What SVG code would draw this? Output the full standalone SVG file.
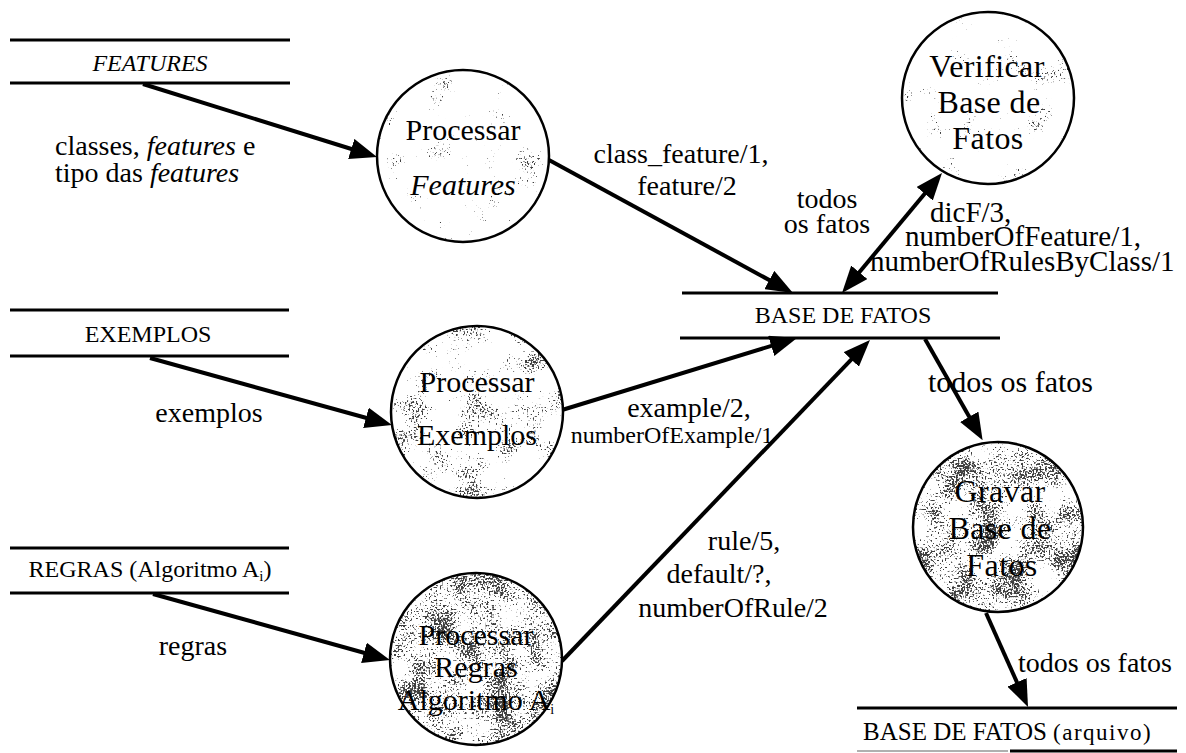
<svg xmlns="http://www.w3.org/2000/svg" width="1186" height="753" viewBox="0 0 1186 753">
  <style>
    text { font-family: "Liberation Serif", "Times New Roman", serif; fill: #000; }
    .store { stroke: #000; stroke-width: 3; }
    .ring { fill: none; stroke: #000; stroke-width: 2.5; }
    .disc { fill: #fff; }
    .grain { fill: #000; opacity: 0.75; }
    .flow { stroke: #000; stroke-width: 4; fill: none; marker-end: url(#head); }
    .both { marker-start: url(#head); }
    .nm { font-size: 30px; text-anchor: middle; }
    .nm2 { font-size: 32px; text-anchor: middle; letter-spacing: 0.4px; }
    .st { font-size: 24px; text-anchor: middle; }
    .el { font-size: 28px; }
    .mid { text-anchor: middle; }
  </style>
  <defs>
    <marker id="head" viewBox="0 0 27 21" refX="12" refY="10.5" markerWidth="27" markerHeight="21" markerUnits="userSpaceOnUse" orient="auto-start-reverse">
      <path d="M0,0 L27,10.5 L0,21 z" fill="#000"/>
    </marker>
    <!-- stipple grain inside the process bubbles: fine noise, loosely gathered by a coarse noise -->
    <filter id="grainLight" x="-5%" y="-5%" width="110%" height="110%" color-interpolation-filters="sRGB">
      <feTurbulence type="fractalNoise" baseFrequency="0.55" numOctaves="1" seed="7" result="fine"/>
      <feTurbulence type="fractalNoise" baseFrequency="0.035" numOctaves="2" seed="21" result="coarse"/>
      <feColorMatrix in="fine" type="matrix" values="0 0 0 0 0  0 0 0 0 0  0 0 0 0 0  1 0 0 0 0" result="fa"/>
      <feColorMatrix in="coarse" type="matrix" values="0 0 0 0 0  0 0 0 0 0  0 0 0 0 0  1 0 0 0 0" result="ca"/>
      <feComposite in="fa" in2="ca" operator="arithmetic" k2="1" k3="0.7" k4="-1.08" result="mix"/>
      <feComponentTransfer in="mix"><feFuncA type="linear" slope="10" intercept="-0.3"/></feComponentTransfer>
      <feComposite in2="SourceAlpha" operator="in"/>
    </filter>
    <filter id="grainMid" x="-5%" y="-5%" width="110%" height="110%" color-interpolation-filters="sRGB">
      <feTurbulence type="fractalNoise" baseFrequency="0.55" numOctaves="1" seed="3" result="fine"/>
      <feTurbulence type="fractalNoise" baseFrequency="0.035" numOctaves="2" seed="11" result="coarse"/>
      <feColorMatrix in="fine" type="matrix" values="0 0 0 0 0  0 0 0 0 0  0 0 0 0 0  1 0 0 0 0" result="fa"/>
      <feColorMatrix in="coarse" type="matrix" values="0 0 0 0 0  0 0 0 0 0  0 0 0 0 0  1 0 0 0 0" result="ca"/>
      <feComposite in="fa" in2="ca" operator="arithmetic" k2="1" k3="0.7" k4="-1.0" result="mix"/>
      <feComponentTransfer in="mix"><feFuncA type="linear" slope="10" intercept="-0.3"/></feComponentTransfer>
      <feComposite in2="SourceAlpha" operator="in"/>
    </filter>
    <filter id="grainHeavy" x="-5%" y="-5%" width="110%" height="110%" color-interpolation-filters="sRGB">
      <feTurbulence type="fractalNoise" baseFrequency="0.55" numOctaves="1" seed="5" result="fine"/>
      <feTurbulence type="fractalNoise" baseFrequency="0.035" numOctaves="2" seed="17" result="coarse"/>
      <feColorMatrix in="fine" type="matrix" values="0 0 0 0 0  0 0 0 0 0  0 0 0 0 0  1 0 0 0 0" result="fa"/>
      <feColorMatrix in="coarse" type="matrix" values="0 0 0 0 0  0 0 0 0 0  0 0 0 0 0  1 0 0 0 0" result="ca"/>
      <feComposite in="fa" in2="ca" operator="arithmetic" k2="1" k3="0.7" k4="-0.89" result="mix"/>
      <feComponentTransfer in="mix"><feFuncA type="linear" slope="10" intercept="-0.3"/></feComponentTransfer>
      <feComposite in2="SourceAlpha" operator="in"/>
    </filter>
  </defs>

  <rect width="1186" height="753" fill="#fff"/>

  <!-- data flows -->
  <g id="connectors">
    <line class="flow" x1="143" y1="84" x2="362.7" y2="152.5"/>
    <line class="flow" x1="150" y1="358" x2="377.5" y2="421"/>
    <line class="flow" x1="153" y1="594" x2="375.5" y2="656"/>
    <line class="flow" x1="549" y1="160" x2="779.8" y2="285.8"/>
    <line class="flow" x1="562" y1="410" x2="782.7" y2="342.4"/>
    <line class="flow" x1="562" y1="661" x2="859.6" y2="350.8"/>
    <line class="flow both" x1="851.6" y1="281.5" x2="932.4" y2="184.5"/>
    <line class="flow" x1="925" y1="339" x2="975.2" y2="427.2"/>
    <line class="flow" x1="986" y1="613" x2="1021.9" y2="693.3"/>

    <g id="flow-labels" class="el">
      <text x="55" y="155">classes, <tspan font-style="italic">features</tspan> e</text>
      <text x="55" y="182">tipo das <tspan font-style="italic">features</tspan></text>
      <text x="681" y="163" class="mid">class_feature/1,</text>
      <text x="687" y="195" class="mid">feature/2</text>
      <text x="827" y="208" class="mid">todos</text>
      <text x="827" y="233" class="mid">os fatos</text>
      <text x="930" y="222" font-size="29">dicF/3,</text>
      <text x="905" y="246" font-size="29">numberOfFeature/1,</text>
      <text x="870" y="271" font-size="29">numberOfRulesByClass/1</text>
      <text x="209" y="422" class="mid">exemplos</text>
      <text x="689" y="417" class="mid">example/2,</text>
      <text x="672" y="443" class="mid" font-size="24">numberOfExample/1</text>
      <text x="193" y="655" class="mid">regras</text>
      <text x="744" y="550" class="mid">rule/5,</text>
      <text x="719" y="583" class="mid">default/?,</text>
      <text x="733" y="617" class="mid">numberOfRule/2</text>
      <text x="928" y="392" font-size="30">todos os fatos</text>
      <text x="1018" y="672">todos os fatos</text>
    </g>
  </g>

  <!-- data stores -->
  <g id="store-features">
    <line class="store" x1="10" y1="40" x2="290" y2="40"/>
    <line class="store" x1="10" y1="83" x2="290" y2="83"/>
    <text x="150" y="71" class="st" font-style="italic">FEATURES</text>
  </g>
  <g id="store-exemplos">
    <line class="store" x1="10" y1="310" x2="289" y2="310"/>
    <line class="store" x1="10" y1="356" x2="289" y2="356"/>
    <text x="148" y="342" class="st">EXEMPLOS</text>
  </g>
  <g id="store-regras">
    <line class="store" x1="10" y1="548" x2="289" y2="548"/>
    <line class="store" x1="10" y1="593" x2="289" y2="593"/>
    <text x="150" y="577" class="st">REGRAS (Algoritmo A<tspan font-size="15" dy="4">i</tspan><tspan dy="-4">)</tspan></text>
  </g>
  <g id="store-base">
    <line class="store" x1="682" y1="293" x2="998" y2="293"/>
    <line class="store" x1="680" y1="338" x2="1000" y2="338"/>
    <text x="843" y="323" class="st" font-size="23">BASE DE FATOS</text>
  </g>
  <g id="store-arquivo">
    <line class="store" x1="857" y1="708" x2="1177" y2="708"/>
    <line x1="857" y1="751" x2="1008" y2="751" stroke="#b0b0b0" stroke-width="2"/>
    <line class="store" x1="1010" y1="751" x2="1177" y2="751"/>
    <text x="863" y="740" font-size="25">BASE DE FATOS <tspan font-size="23" letter-spacing="1.5">(arquivo)</tspan></text>
  </g>

  <!-- processes -->
  <g id="proc-features">
    <circle class="disc" cx="463" cy="156" r="86"/>
    <circle class="grain" cx="463" cy="156" r="86" filter="url(#grainLight)" opacity="0.4"/>
    <circle class="ring" cx="463" cy="156" r="86"/>
    <text x="463" y="140" class="nm">Processar</text>
    <text x="463" y="195" class="nm" font-style="italic">Features</text>
  </g>
  <g id="proc-verificar">
    <circle class="disc" cx="988" cy="98" r="86"/>
    <circle class="grain" cx="988" cy="98" r="86" filter="url(#grainLight)"/>
    <circle class="ring" cx="988" cy="98" r="86"/>
    <text x="987" y="77" class="nm2">Verificar</text>
    <text x="989" y="113" class="nm2">Base de</text>
    <text x="988" y="149" class="nm2">Fatos</text>
  </g>
  <g id="proc-exemplos">
    <circle class="disc" cx="477" cy="412" r="86"/>
    <circle class="grain" cx="477" cy="412" r="86" filter="url(#grainMid)"/>
    <circle class="ring" cx="477" cy="412" r="86"/>
    <text x="477" y="392" class="nm">Processar</text>
    <text x="477" y="445" class="nm">Exemplos</text>
  </g>
  <g id="proc-regras">
    <circle class="disc" cx="476" cy="659" r="86"/>
    <circle class="grain" cx="476" cy="659" r="86" filter="url(#grainHeavy)"/>
    <circle class="ring" cx="476" cy="659" r="86"/>
    <text x="476" y="645" class="nm">Processar</text>
    <text x="476" y="677" class="nm">Regras</text>
    <text x="476" y="710" class="nm" font-size="23">Algoritmo A<tspan font-size="14" dy="4">i</tspan></text>
  </g>
  <g id="proc-gravar">
    <circle class="disc" cx="998" cy="527" r="85"/>
    <circle class="grain" cx="998" cy="527" r="85" filter="url(#grainHeavy)"/>
    <circle class="ring" cx="998" cy="527" r="85"/>
    <text x="1000" y="502" class="nm2">Gravar</text>
    <text x="1000" y="539" class="nm2">Base de</text>
    <text x="1002" y="576" class="nm2">Fatos</text>
  </g>
</svg>
